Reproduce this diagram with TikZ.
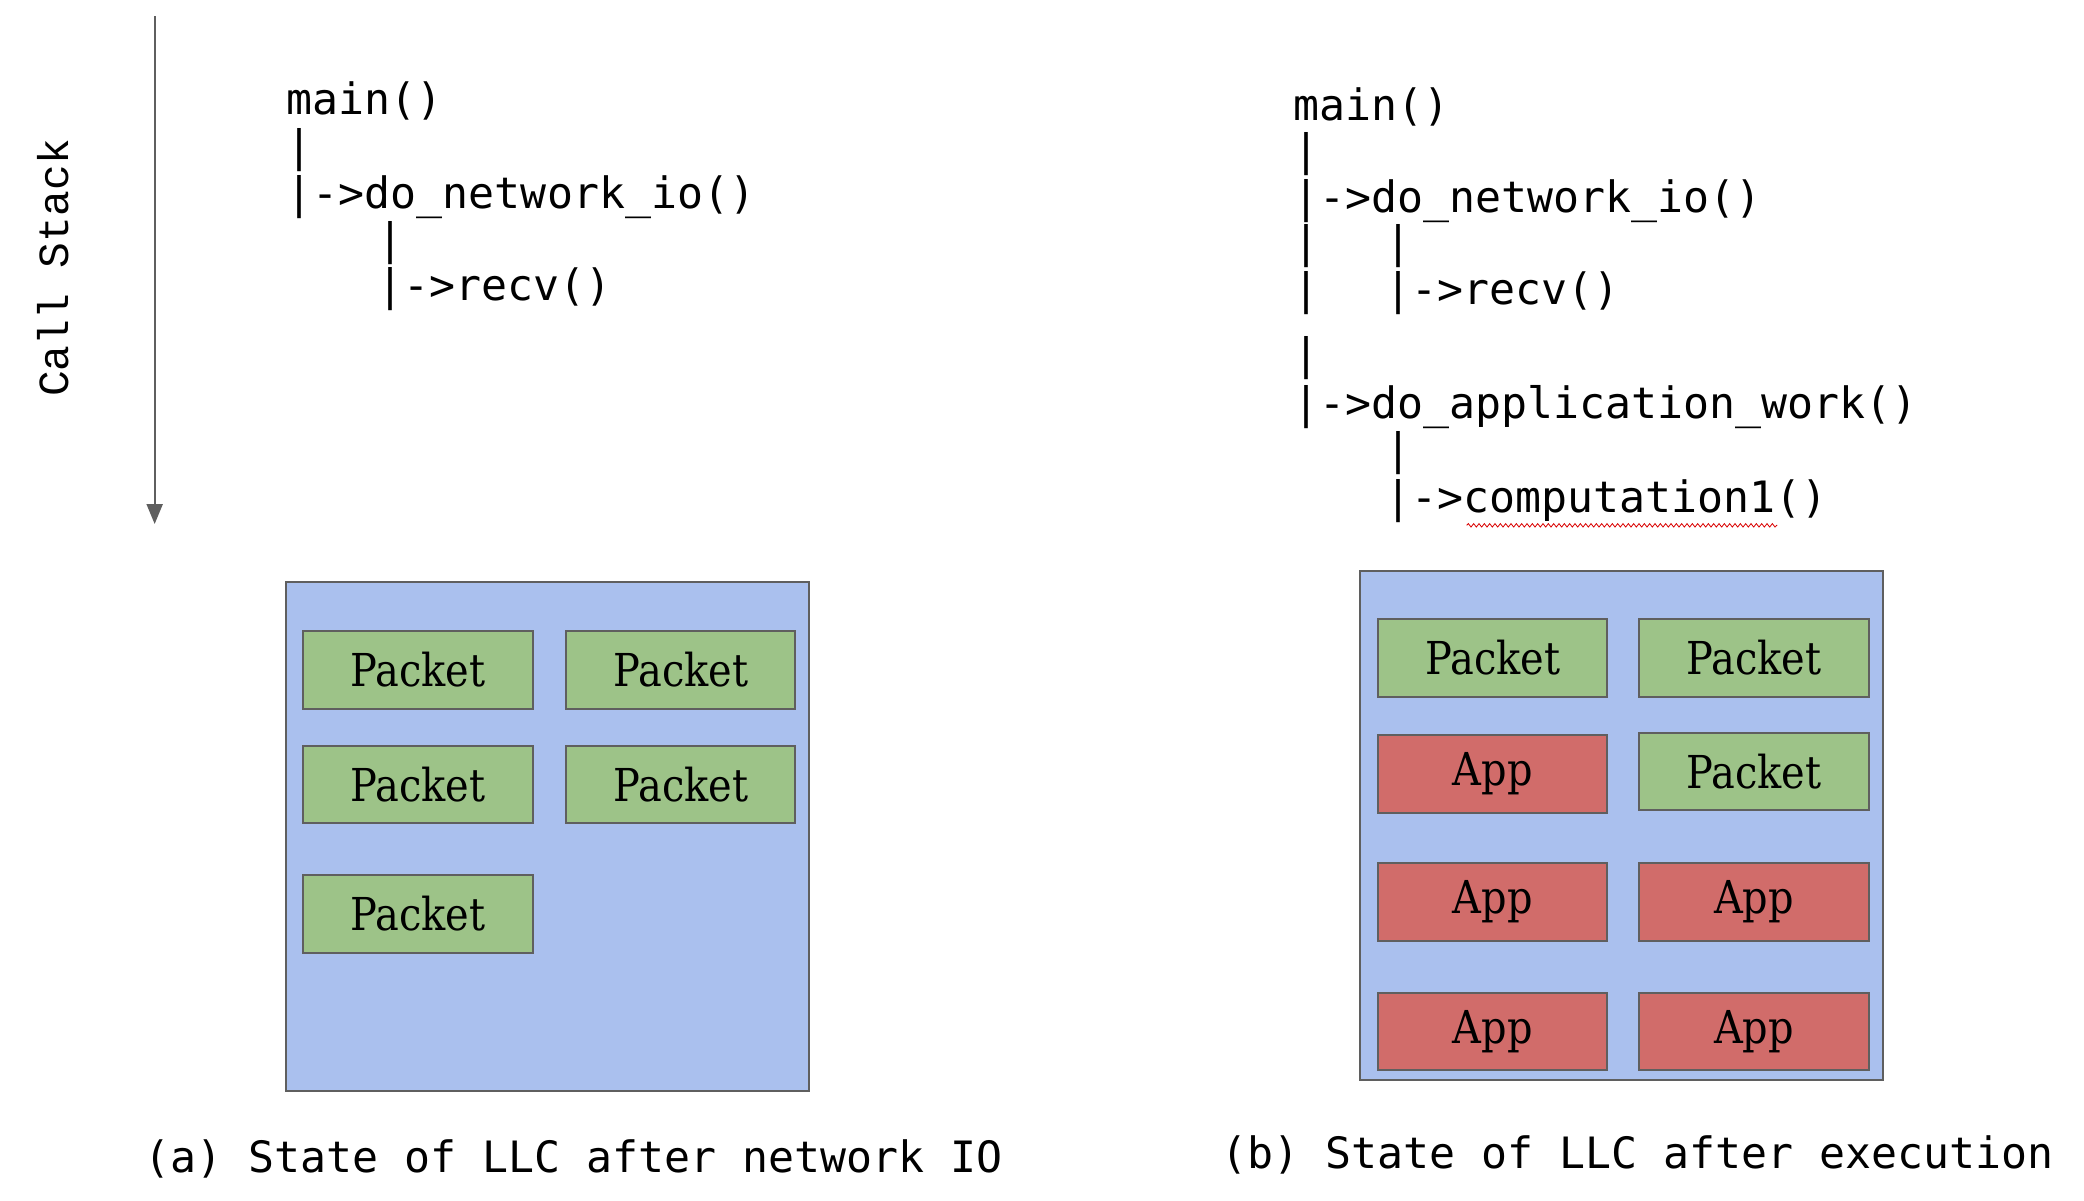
\documentclass[tikz,border=0pt]{standalone}
\usepackage{fontspec}
\usetikzlibrary{arrows.meta,decorations.pathmorphing}
\newfontfamily\codefont{DejaVu Sans Mono}
\newfontfamily\csfont{Liberation Mono}
\newfontfamily\boxfont[FakeStretch=0.88]{DejaVu Serif}
\definecolor{llcblue}{RGB}{170,192,238}
\definecolor{pktgreen}{RGB}{157,195,136}
\definecolor{appred}{RGB}{209,108,106}
\definecolor{linegray}{RGB}{95,95,95}
\tikzset{
  code/.style={anchor=base west, inner sep=0pt, font=\codefont\fontsize{32.4}{38}\selectfont},
  llc/.style={draw=linegray, fill=llcblue, line width=1.4pt, inner sep=0pt, minimum width=392, minimum height=382},
  cell/.style={draw=linegray, line width=1.4pt, inner sep=0pt, minimum width=172, minimum height=58, font=\boxfont\fontsize{34}{40}\selectfont},
  pkt/.style={cell, fill=pktgreen},
  app/.style={cell, fill=appred},
  arr/.style={draw=linegray, line width=1.6pt, -{Triangle[width=12pt,length=15pt]}}
}
\begin{document}
\begin{tikzpicture}[x=1pt,y=-1pt]
\useasboundingbox (0,0) rectangle (1563,900);
% call stack arrow
\coordinate (atop) at (116,12);
\coordinate (abot) at (116,393);
\draw[arr] (atop) -- (abot);
\node[rotate=90, inner sep=0pt, font=\csfont\fontsize{32.2}{38}\selectfont] (cs) at (40,201) {Call Stack};
% left call tree
\node[code] (l1) at (215,86) {main()};
\node[code] (l2) at (215,121) {|};
\node[code] (l3) at (215,156) {|->do\_network\_io()};
\node[code] (l4) at (283,191) {|};
\node[code] (l5) at (283,225) {|->recv()};
% right call tree
\node[code] (r1) at (970,90) {main()};
\node[code] (r2) at (970,124) {|};
\node[code] (r3) at (970,159) {|->do\_network\_io()};
\node[code] (r4a) at (970,193) {|};
\node[code] (r4b) at (1039,193) {|};
\node[code] (r5a) at (970,228) {|};
\node[code] (r5b) at (1039,228) {|->recv()};
\node[code] (r6) at (970,277) {|};
\node[code] (r7) at (970,314) {|->do\_application\_work()};
\node[code] (r8) at (1039,348) {|};
\node[code] (r9) at (1039,384) {|->computation1()};
\coordinate (wavyA) at (1100,394);
\coordinate (wavyB) at (1333,394);
\draw[red!85!black, line width=0.6pt, decorate, decoration={snake, amplitude=1.3pt, segment length=4pt}] (wavyA) -- (wavyB);
% left LLC
\node[llc] (llcA) at (410.5,627.5) {};
\node[pkt] (a11) at (313.5,502.5) {Packet};
\node[pkt] (a12) at (510.5,502.5) {Packet};
\node[pkt] (a21) at (313.5,588.5) {Packet};
\node[pkt] (a22) at (510.5,588.5) {Packet};
\node[pkt] (a31) at (313.5,685.5) {Packet};
% right LLC
\node[llc] (llcB) at (1216,619) {};
\node[pkt] (b11) at (1119.5,493.5) {Packet};
\node[pkt] (b12) at (1315.5,493.5) {Packet};
\node[app] (b21) at (1119.5,580.5) {App};
\node[pkt] (b22) at (1315.5,578.5) {Packet};
\node[app] (b31) at (1119.5,676.5) {App};
\node[app] (b32) at (1315.5,676.5) {App};
\node[app] (b41) at (1119.5,773.5) {App};
\node[app] (b42) at (1315.5,773.5) {App};
% captions
\node[code] (capA) at (108,879) {(a) State of LLC after network IO};
\node[code] (capB) at (916,876) {(b) State of LLC after execution};
\end{tikzpicture}
\end{document}
